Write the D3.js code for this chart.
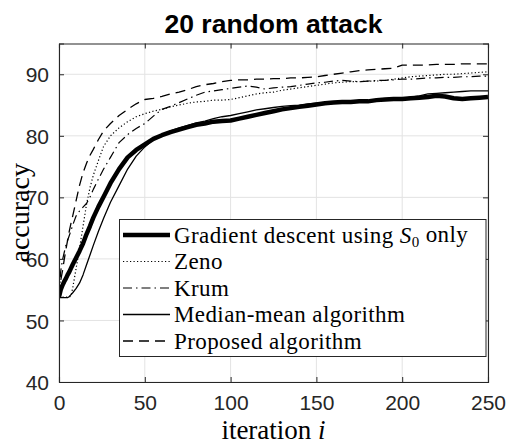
<!DOCTYPE html>
<html>
<head>
<meta charset="utf-8">
<script src="https://cdn.jsdelivr.net/npm/d3@7"></script>
<style>
  html, body { margin: 0; padding: 0; background: #fff; }
  svg { display: block; }
</style>
</head>
<body>
<svg id="chart" width="509" height="447"></svg>
<script>
// Iterations at which accuracy was sampled
const iterations = [0,1,2,3,4,5,6,7,8,10,12,14,16,18,20,23,26,30,35,40,45,50,55,60,65,70,75,80,85,90,95,100,
  105,110,115,120,125,130,135,140,145,150,155,160,165,170,175,180,185,190,195,200,205,210,215,220,225,230,235,240,245,250];

const gradientS0 = [53.8,55.0,55.7,56.3,56.8,57.4,57.9,58.5,59.1,60.2,61.3,62.5,64.0,65.3,66.7,68.5,70.1,72.3,74.6,76.5,77.7,78.6,79.5,80.1,80.6,81.0,81.4,81.8,82.0,82.3,82.4,82.5,
  82.8,83.1,83.4,83.7,84.0,84.3,84.5,84.7,84.9,85.1,85.3,85.4,85.5,85.5,85.6,85.6,85.8,85.9,86.0,86.0,86.1,86.2,86.3,86.5,86.4,86.1,86.0,86.1,86.2,86.3];

const zeno = [53.8,53.8,53.8,53.8,53.8,53.8,53.8,54.0,55.3,58.5,61.8,65.3,68.8,71.5,73.6,76.0,78.3,80.0,81.3,82.3,83.1,83.6,84.0,84.3,84.7,85.0,85.3,85.5,85.6,85.8,85.8,85.9,
  86.2,86.5,86.8,87.0,87.1,87.4,87.6,87.8,88.0,88.2,88.4,88.6,88.7,88.8,88.8,88.9,88.9,89.0,89.2,89.4,89.6,89.7,89.8,89.9,90.0,90.0,90.1,90.2,90.3,90.4];

const krum = [54.0,58.0,59.8,61.0,62.2,63.0,63.8,64.6,65.5,67.0,67.8,68.4,69.0,70.0,71.3,73.0,74.6,76.5,78.9,80.2,81.2,82.0,83.2,84.3,84.8,85.4,86.0,86.6,87.1,87.3,87.5,87.7,
  87.9,88.1,87.9,87.6,87.8,87.9,88.0,88.2,88.4,88.6,88.7,88.9,89.0,88.9,88.8,88.9,89.0,89.0,89.1,89.2,89.2,89.3,89.4,89.4,89.5,89.5,89.6,89.6,89.7,89.7];

const medianMean = [53.7,53.7,53.7,53.7,53.7,53.7,53.9,54.2,54.5,55.2,56.1,57.4,59.0,60.6,62.2,64.5,66.6,69.2,71.9,74.6,76.7,78.2,79.4,80.2,80.8,81.3,81.7,82.1,82.4,82.8,83.1,83.3,
  83.6,83.9,84.2,84.4,84.6,84.8,84.9,85.0,85.2,85.3,85.4,85.5,85.5,85.6,85.6,85.7,85.8,85.9,86.0,86.1,86.3,86.5,86.8,86.9,87.0,87.1,87.2,87.3,87.3,87.3];

const proposed = [54.0,56.5,58.0,59.8,61.5,63.0,64.5,65.8,67.0,69.5,72.0,74.0,75.5,76.8,77.8,79.4,80.8,82.0,83.3,84.3,85.2,85.9,86.1,86.4,86.8,87.1,87.5,88.0,88.3,88.5,88.8,89.0,
  89.1,89.1,89.2,89.2,89.3,89.3,89.4,89.4,89.5,89.6,89.8,90.0,90.2,90.4,90.6,90.7,90.8,90.9,91.0,91.5,91.5,91.5,91.5,91.6,91.6,91.6,91.7,91.7,91.7,91.7];

const seriesNames = ["Gradient descent using S0 only", "Zeno", "Krum", "Median-mean algorithm", "Proposed algorithm"];
const xTicks = [0, 50, 100, 150, 200, 250];
const yTicks = [40, 50, 60, 70, 80, 90];

const series = [
  { name: seriesNames[0], values: gradientS0, width: 4.5, dash: null },
  { name: seriesNames[1], values: zeno,       width: 1.2, dash: "1.2,2.3" },
  { name: seriesNames[2], values: krum,       width: 1.2, dash: "9,4,1.5,4" },
  { name: seriesNames[3], values: medianMean, width: 1.3, dash: null },
  { name: seriesNames[4], values: proposed,   width: 1.3, dash: "10,6" }
];

const svg = d3.select("#chart");
const plot = { left: 59, right: 488, top: 43.5, bottom: 382 };
const axisColor = "#262626";
const sansFont = "'Liberation Sans', Arial, Helvetica, sans-serif";
const serifFont = "'Liberation Serif', 'Times New Roman', serif";

const x = d3.scaleLinear().domain([0, 250]).range([plot.left, plot.right]);
const y = d3.scaleLinear().domain([40, 95]).range([plot.bottom, plot.top]);

// grid
const grid = svg.append("g").attr("stroke", "#e3e3e3").attr("stroke-width", 1);
grid.selectAll(".gx").data(xTicks).join("line")
  .attr("x1", d => x(d)).attr("x2", d => x(d))
  .attr("y1", plot.top).attr("y2", plot.bottom);
grid.selectAll(".gy").data(yTicks).join("line")
  .attr("x1", plot.left).attr("x2", plot.right)
  .attr("y1", d => y(d)).attr("y2", d => y(d));

// curves
svg.append("defs").append("clipPath").attr("id", "clip")
  .append("rect").attr("x", plot.left).attr("y", plot.top)
  .attr("width", plot.right - plot.left).attr("height", plot.bottom - plot.top);

const line = d3.line().x((d, i) => x(iterations[i])).y(d => y(d));
const curves = svg.append("g").attr("clip-path", "url(#clip)");
series.forEach(s => {
  curves.append("path")
    .attr("d", line(s.values))
    .attr("fill", "none")
    .attr("stroke", "#000")
    .attr("stroke-width", s.width)
    .attr("stroke-linejoin", "round")
    .attr("stroke-dasharray", s.dash);
});

// axes with inward ticks on all four sides
const tickLen = 5;
const axB = svg.append("g").attr("transform", `translate(0,${plot.bottom})`)
  .call(d3.axisBottom(x).tickValues(xTicks).tickSize(-tickLen).tickPadding(13));
const axT = svg.append("g").attr("transform", `translate(0,${plot.top})`)
  .call(d3.axisTop(x).tickValues(xTicks).tickSize(-tickLen).tickFormat(""));
const axL = svg.append("g").attr("transform", `translate(${plot.left},0)`)
  .call(d3.axisLeft(y).tickValues(yTicks).tickSize(-tickLen).tickPadding(10));
const axR = svg.append("g").attr("transform", `translate(${plot.right},0)`)
  .call(d3.axisRight(y).tickValues(yTicks).tickSize(-tickLen).tickFormat(""));

[axB, axT, axL, axR].forEach(a => {
  a.select(".domain").attr("stroke", axisColor).attr("stroke-width", 1.1);
  a.selectAll(".tick line").attr("stroke", axisColor).attr("stroke-width", 1);
  a.selectAll("text").attr("fill", axisColor).attr("font-family", sansFont).attr("font-size", 21);
});
// drop ticks sitting on the box corners
[axB, axT].forEach(a => a.selectAll(".tick line").filter(d => d === 0 || d === 250).remove());
[axL, axR].forEach(a => a.selectAll(".tick line").filter(d => d === 40).remove());
axL.selectAll("text").attr("dy", "0.36em");

// title
svg.append("text")
  .attr("x", (plot.left + plot.right) / 2).attr("y", 33)
  .attr("text-anchor", "middle")
  .attr("font-family", sansFont).attr("font-weight", "bold").attr("font-size", 26.5)
  .attr("fill", "#000")
  .text("20 random attack");

// axis labels
const xl = svg.append("text")
  .attr("x", (plot.left + plot.right) / 2).attr("y", 439)
  .attr("text-anchor", "middle")
  .attr("font-family", serifFont).attr("font-size", 27).attr("fill", "#000");
xl.append("tspan").text("iteration ");
xl.append("tspan").attr("font-style", "italic").text("i");

svg.append("text")
  .attr("transform", `translate(29,${(plot.top + plot.bottom) / 2}) rotate(-90)`)
  .attr("text-anchor", "middle")
  .attr("font-family", serifFont).attr("font-size", 28).attr("fill", "#000")
  .text("accuracy");

// legend
const legend = svg.append("g");
legend.append("rect")
  .attr("x", 119.5).attr("y", 219.5).attr("width", 366.5).attr("height", 137)
  .attr("fill", "#fff").attr("stroke", axisColor).attr("stroke-width", 1);

const rowY = d3.scaleLinear().domain([0, 4]).range([235, 341]);
series.forEach((s, i) => {
  const cy = rowY(i);
  legend.append("line")
    .attr("x1", 123).attr("x2", 170).attr("y1", cy).attr("y2", cy)
    .attr("stroke", "#000").attr("stroke-width", s.width)
    .attr("stroke-dasharray", s.dash);
  const t = legend.append("text")
    .attr("x", 174).attr("y", cy).attr("dy", "0.33em")
    .attr("font-family", serifFont).attr("font-size", 23).attr("letter-spacing", 0.4)
    .attr("fill", "#000");
  if (i === 0) {
    t.append("tspan").text("Gradient descent using ");
    t.append("tspan").attr("font-style", "italic").text("S");
    t.append("tspan").attr("font-size", 15).attr("dy", "0.3em").text("0");
    t.append("tspan").attr("dy", "-0.2em").text(" only");
  } else {
    t.text(s.name);
  }
});
</script>
</body>
</html>
